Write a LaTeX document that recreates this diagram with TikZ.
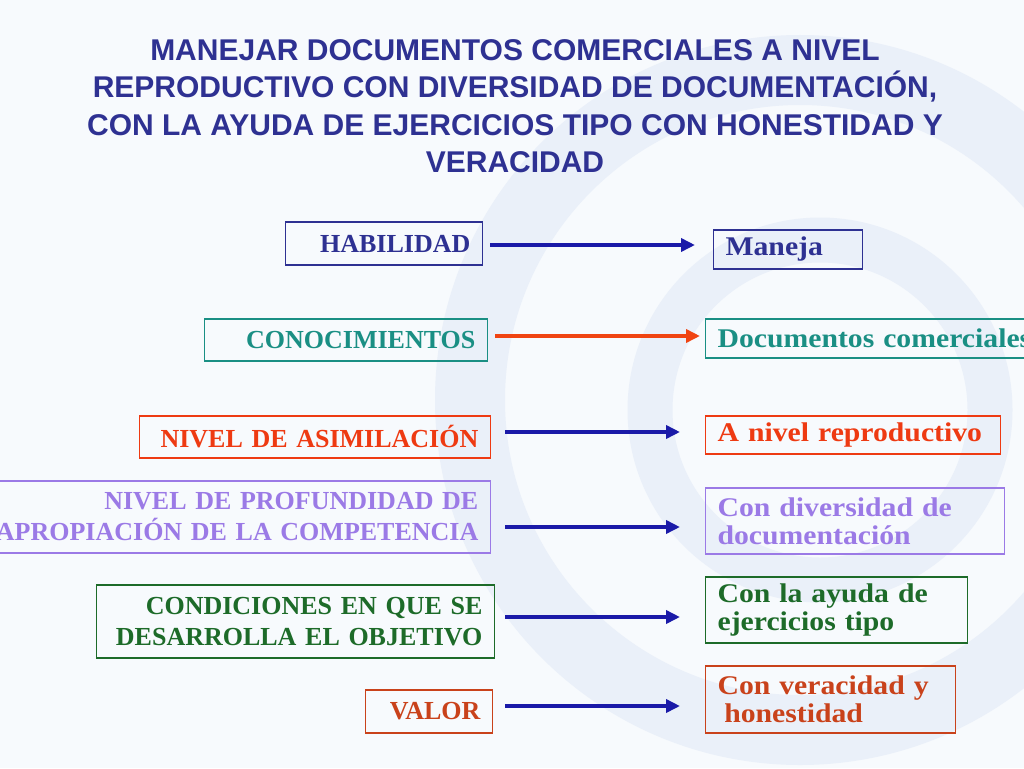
\documentclass[tikz,border=0pt]{standalone}
\usepackage{fontspec}
\setmainfont{Liberation Serif}
\newfontfamily\titlefont{Liberation Sans}
\newfontfamily\rightfont[FakeStretch=1.1]{Liberation Serif}
\usetikzlibrary{arrows.meta, calc}

\definecolor{bgcol}{HTML}{F7FAFD}
\definecolor{ringcol}{HTML}{EAF0F9}
\definecolor{navytext}{HTML}{2E3192}
\definecolor{tealtext}{HTML}{1A8F84}
\definecolor{redtext}{HTML}{EE3A12}
\definecolor{lilactext}{HTML}{9B7AE6}
\definecolor{greentext}{HTML}{1D6B29}
\definecolor{rusttext}{HTML}{C9421B}
\definecolor{arrowblue}{HTML}{1A1AA8}
\definecolor{arroworange}{HTML}{F04412}

\begin{document}
\begin{tikzpicture}[x=1pt, y=-1pt, thick,
    leftbox/.style={draw, line width=1.2pt, inner xsep=12pt, inner ysep=0pt,
      align=right, anchor=east, font=\fontsize{26}{31}\selectfont\bfseries},
    rightbox/.style={draw, line width=1.2pt, inner xsep=12pt, inner ysep=0pt,
      align=left, anchor=west, font=\rightfont\fontsize{27}{28}\selectfont\bfseries},
    link/.style={line width=3.5pt, -{Triangle[length=14pt, width=13pt]}}]

  % background
  \useasboundingbox (0, 0) rectangle (1024, 768);
  \fill[bgcol] (0, 0) rectangle (1024, 768);
  \draw[ringcol, line width=70pt] (800, 400) circle (330pt);
  \draw[ringcol, line width=45pt] (820, 410) circle (170pt);

  % title
  \node[navytext, align=center, font=\titlefont\fontsize{30}{37.5}\selectfont\bfseries]
    (title) at (515, 106) {MANEJAR DOCUMENTOS COMERCIALES A NIVEL\\
      REPRODUCTIVO CON DIVERSIDAD DE DOCUMENTACIÓN,\\
      CON LA AYUDA DE EJERCICIOS TIPO CON HONESTIDAD Y\\
      VERACIDAD};

  % left column
  \node[leftbox, navytext, text width=173pt, minimum height=43pt] (hab) at (483, 243.5) {HABILIDAD};
  \node[leftbox, tealtext, text width=259pt, minimum height=42pt] (con) at (488, 340) {CONOCIMIENTOS};
  \node[leftbox, redtext, text width=327pt, minimum height=42pt] (asi) at (491, 437) {NIVEL DE ASIMILACIÓN};
  \node[leftbox, lilactext, text width=494pt, minimum height=72pt] (prof) at (491, 517)
    {NIVEL DE PROFUNDIDAD DE\\APROPIACIÓN DE LA COMPETENCIA};
  \node[leftbox, greentext, text width=374pt, minimum height=73pt] (cond) at (495, 621.5)
    {CONDICIONES EN QUE SE\\DESARROLLA EL OBJETIVO};
  \node[leftbox, rusttext, text width=103pt, minimum height=43pt] (val) at (493, 711.5) {VALOR};

  % right column
  \node[rightbox, navytext, text width=125pt, minimum height=39pt] (man) at (713, 249.5) {Maneja};
  \node[rightbox, tealtext, text width=420pt, minimum height=39pt] (doc) at (705, 338.5) {Documentos comerciales};
  \node[rightbox, redtext, text width=271pt, minimum height=38pt] (rep) at (705, 435) {A nivel reproductivo};
  \node[rightbox, lilactext, text width=275pt, minimum height=66pt] (div) at (705, 521)
    {Con diversidad de\\documentación};
  \node[rightbox, greentext, text width=238pt, minimum height=66pt] (ayu) at (705, 610)
    {Con la ayuda de\\ejercicios tipo};
  \node[rightbox, rusttext, text width=226pt, minimum height=67pt] (ver) at (705, 699.5)
    {Con veracidad y\\\hspace{0.25em}honestidad};

  % arrows
  \foreach \from/\to/\col/\dy/\s/\e in {hab/man/arrowblue/1.5/7pt/18pt,
      con/doc/arroworange/-4/7pt/5pt, asi/rep/arrowblue/-5/14pt/25pt,
      prof/div/arrowblue/10/14pt/25pt, cond/ayu/arrowblue/-4.5/10pt/25pt,
      val/ver/arrowblue/-5.5/12pt/25pt} {
    \draw[link, \col, shorten <=\s, shorten >=\e]
      ($(\from.east)+(0, \dy)$) -- ($(\from.east -| \to.west)+(0, \dy)$);
  }

\end{tikzpicture}
\end{document}
